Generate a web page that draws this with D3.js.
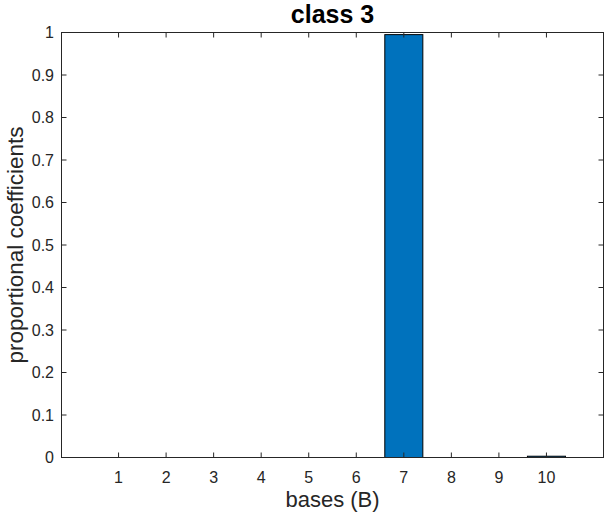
<!DOCTYPE html>
<html><head><meta charset="utf-8">
<script src="https://cdn.jsdelivr.net/npm/d3@7"></script>
<style>body{margin:0;background:#fff}svg{display:block}text{font-family:"Liberation Sans",Arial,sans-serif;fill:#262626}</style>
</head><body>
<script>
const categories = [1,2,3,4,5,6,7,8,9,10];
const values = [0,0,0,0,0,0,0.995,0,0,0.003];
const yTicks = [0,0.1,0.2,0.3,0.4,0.5,0.6,0.7,0.8,0.9,1];
const titleText = "class 3";
const xLabel = "bases (B)";
const yLabel = "proportional coefficients";

const W=608,H=516;
const m={l:61.5,r:603.5,t:32.5,b:457.5};
const svg=d3.select("body").append("svg").attr("width",W).attr("height",H);
const x=d3.scaleLinear().domain([-0.2,11.2]).range([m.l,m.r]);
const y=d3.scaleLinear().domain([0,1]).range([m.b,m.t]);
const bw=(x(1)-x(0))*0.8;

svg.append("g").selectAll("rect").data(values).join("rect")
  .attr("x",(d,i)=>x(categories[i])-bw/2).attr("width",bw)
  .attr("y",d=>y(d)).attr("height",d=>y(0)-y(d))
  .attr("fill","#0072BD").attr("stroke","#000").attr("stroke-width",1);

const tl=5;
const ax=svg.append("g").attr("stroke","#262626").attr("fill","none");
ax.append("rect").attr("x",m.l).attr("y",m.t).attr("width",m.r-m.l).attr("height",m.b-m.t).attr("stroke-width",1);
categories.forEach(c=>{
  ax.append("line").attr("x1",x(c)).attr("x2",x(c)).attr("y1",m.b).attr("y2",m.b-tl);
  ax.append("line").attr("x1",x(c)).attr("x2",x(c)).attr("y1",m.t).attr("y2",m.t+tl);
});
yTicks.forEach(t=>{
  ax.append("line").attr("x1",m.l).attr("x2",m.l+tl).attr("y1",y(t)).attr("y2",y(t));
  ax.append("line").attr("x1",m.r).attr("x2",m.r-tl).attr("y1",y(t)).attr("y2",y(t));
});
svg.append("g").selectAll("text").data(categories).join("text")
  .attr("x",d=>x(d)).attr("y",482.5).attr("text-anchor","middle").attr("font-size",16).text(d=>d);
svg.append("g").selectAll("text").data(yTicks).join("text")
  .attr("x",m.l-7.5).attr("y",d=>y(d)+5.5).attr("text-anchor","end").attr("font-size",16)
  .text(d=>d3.format("")(d));
svg.append("text").attr("x",(m.l+m.r)/2).attr("y",23).attr("text-anchor","middle")
  .attr("font-size",25).attr("font-weight","bold").style("fill","#000").text(titleText);
svg.append("text").attr("x",(m.l+m.r)/2).attr("y",507).attr("text-anchor","middle").attr("font-size",22).text(xLabel);
svg.append("text").attr("transform",`translate(23,${(m.t+m.b)/2}) rotate(-90)`).attr("text-anchor","middle").attr("font-size",22.5).text(yLabel);
</script>
</body></html>
